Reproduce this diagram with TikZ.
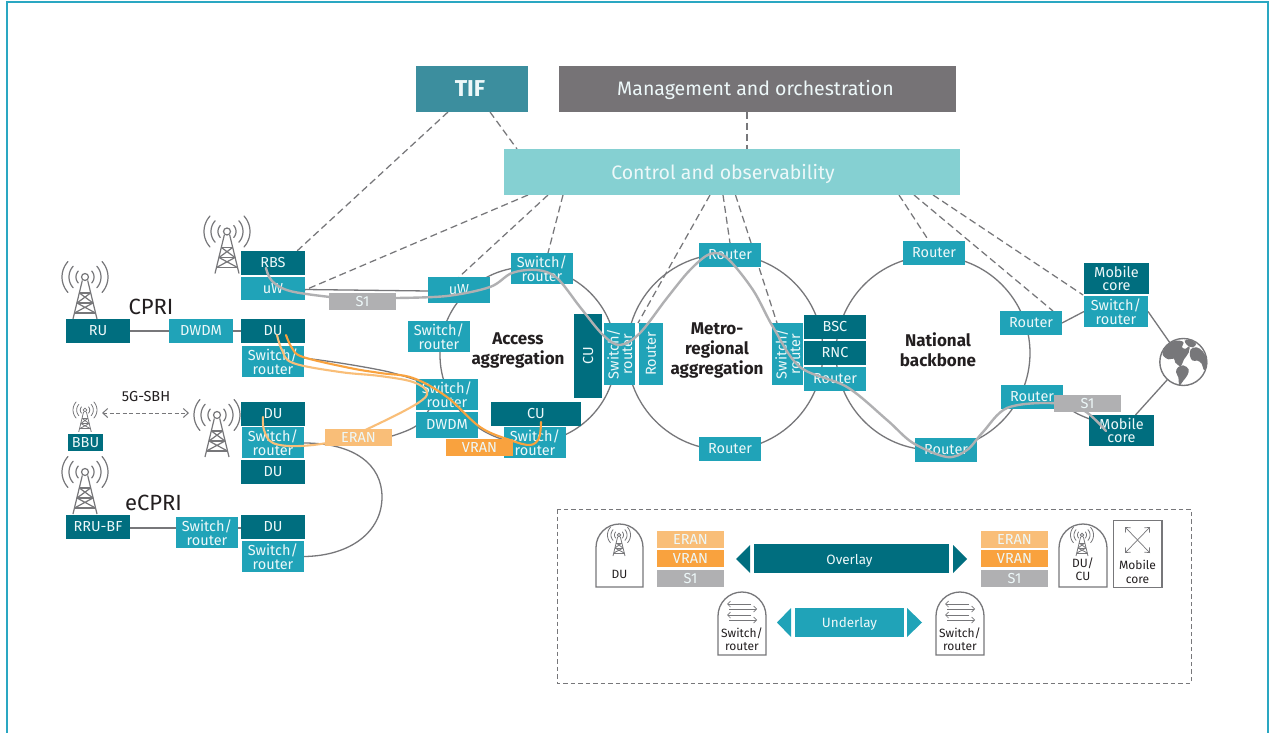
\documentclass[tikz,border=0pt]{standalone}
\usepackage{fontspec}
\setmainfont{Fira Sans}
\usetikzlibrary{arrows.meta,backgrounds}
\definecolor{deep}{HTML}{006E7F}
\definecolor{mid}{HTML}{20A3B8}
\definecolor{tifc}{HTML}{3C8E9E}
\definecolor{mgmt}{HTML}{767376}
\definecolor{ctrl}{HTML}{85D0D2}
\definecolor{eranc}{HTML}{F9BE78}
\definecolor{vranc}{HTML}{F9A23E}
\definecolor{sonec}{HTML}{B0B0B2}
\definecolor{wire}{HTML}{77777A}
\definecolor{framec}{HTML}{2AA7C2}
\definecolor{ink}{HTML}{231F20}
\pgfdeclarelayer{paper}
\pgfdeclarelayer{under}
\pgfdeclarelayer{over}
\pgfdeclarelayer{top}
\pgfsetlayers{paper,under,main,over,top}
\tikzset{
  x=1pt,y=-1pt,
  fillbox/.style={inner sep=0pt,outer sep=0pt,text=white!92!mid,align=center,font=\fontsize{14.5}{13.5}\selectfont},
  deepbox/.style={fillbox,fill=deep},
  midbox/.style={fillbox,fill=mid},
  eranbox/.style={fillbox,fill=eranc},
  vranbox/.style={fillbox,fill=vranc},
  sonebox/.style={fillbox,fill=sonec},
  bigbox/.style={fillbox,font=\fontsize{19.5}{22}\selectfont},
  ctlline/.style={draw=wire,line width=1.25pt,dash pattern=on 7pt off 4pt},
  wireline/.style={draw=wire,line width=1.3pt},
  ring/.style={circle,draw=wire,line width=1.3pt,inner sep=0pt,outer sep=0pt},
  sone path/.style={draw=sonec,line width=2.4pt,line cap=round},
  eran path/.style={draw=eranc,line width=2.1pt,line cap=round},
  vran path/.style={draw=vranc,line width=2.1pt,line cap=round},
  head/.style={font=\bfseries\fontsize{17}{20}\selectfont,text=ink,align=center,inner sep=0pt},
  proto/.style={font=\fontsize{22}{22}\selectfont,text=ink,inner sep=0pt},
  legtext/.style={font=\fontsize{12}{13.5}\selectfont,text=ink,align=center,inner sep=0pt},
  arch/.style={draw=wire,line width=1.3pt,fill=white},
  tower/.pic={
    \foreach \r in {9,16,23}{
      \draw[domain=-42:42,samples=14,line cap=round] plot ({\r*cos(\x)},{\r*sin(\x)});
      \draw[domain=-42:42,samples=14,line cap=round] plot ({-\r*cos(\x)},{\r*sin(\x)});
    }
    \draw (0,0) circle[radius=3.5];
    \draw (-2.7,3.5) -- (-12,42) (2.7,3.5) -- (12,42);
    \draw (-5.6,16) -- (5.6,16) (-8,26) -- (8,26) (-10.5,36) -- (10.5,36);
    \draw (-5.6,16) -- (8,26) (5.6,16) -- (-8,26) (-8,26) -- (10.5,36) (8,26) -- (-10.5,36);
  }
}
\newcommand{\boxat}[7]{%
  \pgfmathsetmacro\bxcx{(#3+#5)/2}%
  \pgfmathsetmacro\bxcy{(#4+#6)/2}%
  \pgfmathsetmacro\bxw{#5-#3}%
  \pgfmathsetmacro\bxh{#6-#4}%
  \node[#1,minimum width=\bxw pt,minimum height=\bxh pt] (#2) at (\bxcx,\bxcy) {#7};}
\newcommand{\archshape}[4]{% x1,x2,ytop,ybottom
  \pgfmathsetmacro\archr{(#2-#1)/2}%
  \pgfmathsetmacro\archm{#3+\archr}%
  \draw[arch] (#1,#4) -- (#1,\archm) arc[start angle=180,end angle=360,radius=\archr] -- (#2,#4) -- cycle;}
\begin{document}
\begin{tikzpicture}
\useasboundingbox (0,0) rectangle (1275,733);
\begin{pgfonlayer}{paper}
\fill[white] (0,0) rectangle (1275,733);
\begin{scope}
  \clip (0,0) rectangle (1275,733);
  \draw[framec,line width=1.6pt] (7,2) rectangle (1268,745);
\end{scope}
\end{pgfonlayer}

% top blocks
\boxat{fillbox,bigbox,fill=tifc,font=\bfseries\fontsize{23}{22}\selectfont}{tif}{416}{66}{528}{112}{\hspace*{-4pt}TIF}
\boxat{fillbox,bigbox,fill=mgmt}{mano}{559}{66}{956}{112}{\hspace*{-4pt}\raisebox{0pt}[18pt][4pt]{Management and orchestration}}
\boxat{fillbox,bigbox,fill=ctrl}{ctl}{504}{149}{960}{195}{\hspace*{-18pt}\raisebox{0pt}[18pt][4pt]{Control and observability}}

% left column
\boxat{deepbox}{rbs}{241}{251}{305}{275}{RBS}
\boxat{midbox}{uwa}{241}{277}{305}{300}{uW}
\boxat{deepbox}{ru}{66}{319}{130}{343}{RU}
\boxat{midbox}{dwdma}{169}{319}{233}{343}{DWDM}
\boxat{deepbox}{dua}{241}{319}{305}{343}{DU}
\boxat{midbox}{swa}{242}{346}{304}{377}{Switch/\\router}
\boxat{deepbox}{dub}{241}{402}{305}{426}{DU}
\boxat{midbox}{swb}{242}{427}{304}{458}{Switch/\\router}
\boxat{deepbox}{duc}{241}{460}{305}{484}{DU}
\boxat{deepbox}{bbu}{68}{434}{103}{451}{BBU}
\boxat{deepbox}{rru}{66}{515}{130}{539}{RRU-BF}
\boxat{midbox}{swc}{176}{517}{238}{548}{Switch/\\router}
\boxat{deepbox}{dud}{241}{515}{305}{539}{DU}
\boxat{midbox}{swd}{242}{541}{304}{572}{Switch/\\router}

% access ring
\boxat{midbox}{uwb}{428}{277}{490}{303}{uW}
\boxat{midbox}{swe}{511}{253}{573}{284}{Switch/\\router}
\boxat{midbox}{swf}{408}{321}{470}{352}{Switch/\\router}
\boxat{midbox}{swg}{416}{379}{478}{410}{Switch/\\router}
\boxat{midbox}{dwdmb}{416}{412}{478}{438}{DWDM}
\boxat{deepbox}{cua}{491}{402}{581}{426}{CU}
\boxat{midbox}{swh}{504}{427}{566}{458}{Switch/\\router}
\node[deepbox,minimum width=84pt,minimum height=28pt,rotate=90] (cub) at (588,356) {CU};
\node[midbox,minimum width=62pt,minimum height=31pt,rotate=90] (swi) at (619.5,354) {Switch/\\router};
\node[midbox,minimum width=62pt,minimum height=24pt,rotate=90] (rta) at (651,354) {Router};

% metro ring
\boxat{midbox}{rtb}{699}{243}{761}{267}{Router}
\boxat{midbox}{rtc}{699}{437}{761}{461}{Router}
\node[midbox,minimum width=62pt,minimum height=31pt,rotate=90] (swj) at (787.5,354) {Switch/\\router};
\boxat{deepbox}{bsc}{804}{315}{866}{339}{BSC}
\boxat{deepbox}{rnc}{804}{341}{866}{365}{RNC}
\boxat{midbox}{rtd}{804}{367}{866}{391}{Router}

% national ring
\boxat{midbox}{rte}{903}{241}{965}{265}{Router}
\boxat{midbox}{rtf}{915}{438}{977}{462}{Router}
\boxat{midbox}{rtg}{1000}{311}{1062}{335}{Router}
\boxat{midbox}{rth}{1001}{385}{1063}{409}{Router}
\boxat{deepbox}{mca}{1084}{263}{1149}{294}{Mobile\\core}
\boxat{midbox}{swk}{1084}{296}{1148}{327}{Switch/\\router}
\boxat{deepbox}{mcb}{1089}{415}{1154}{446}{Mobile\\core}

% globe
\node[circle,draw=wire,line width=1.4pt,fill=white,minimum size=47pt,inner sep=0pt,outer sep=0pt] (globe) at (1183.3,362) {};
\begin{scope}[shift={(1150,330)},scale=.3333]
  \fill[wire] plot[smooth cycle,tension=.6] coordinates {(38,68) (52,44) (76,32) (100,36) (96,52) (108,56) (118,48) (116,68) (102,88) (92,108) (76,98) (72,86) (56,88) (42,80)};
  \fill[wire] plot[smooth cycle,tension=.6] coordinates {(84,112) (100,106) (116,118) (112,136) (100,152) (88,166) (85,142) (78,126)};
  \fill[wire] plot[smooth cycle,tension=.6] coordinates {(122,58) (140,52) (158,64) (171,88) (170,112) (162,120) (154,100) (142,92) (128,92) (120,78)};
  \fill[wire] plot[smooth cycle,tension=.6] coordinates {(104,32) (122,30) (138,42) (128,52) (112,46)};
\end{scope}

% legend boxes
\draw[draw=wire,line width=.9pt,dash pattern=on 4.5pt off 3pt] (557,509) rectangle (1191,683);
\boxat{eranbox}{lea}{657}{531}{724}{548}{ERAN}
\boxat{vranbox}{lva}{657}{550}{724}{567}{VRAN}
\boxat{sonebox}{lsa}{657}{570}{724}{587}{S1}
\boxat{eranbox}{leb}{981}{531}{1048}{548}{ERAN}
\boxat{vranbox}{lvb}{981}{550}{1048}{567}{VRAN}
\boxat{sonebox}{lsb}{981}{570}{1048}{587}{S1}
\boxat{deepbox,font=\fontsize{13.5}{14}\selectfont}{overlay}{754}{544}{949}{573}{\hspace*{-4pt}\raisebox{0pt}[15pt][4pt]{Overlay}}
\boxat{midbox,font=\fontsize{13.5}{14}\selectfont}{underlay}{795}{608}{904}{637}{\raisebox{0pt}[14pt][4pt]{Underlay}}
\fill[deep] (736,559) -- (750,545) -- (750,573) -- cycle;
\fill[deep] (967,559) -- (953,545) -- (953,573) -- cycle;
\fill[mid] (777,622.5) -- (791,608) -- (791,637) -- cycle;
\fill[mid] (922,622.5) -- (907,608) -- (907,637) -- cycle;

\archshape{596}{643}{524}{587}
\archshape{1059}{1107}{524}{587}
\archshape{718}{766}{592}{655}
\archshape{936}{984}{592}{655}
\draw[arch] (1113.5,520.5) rectangle (1162,587.5);
\node[legtext] (ldu) at (619.5,574) {DU};
\node[legtext] (ldc) at (1083,569) {DU/\\CU};
\node[legtext] (lmc) at (1137.5,572) {Mobile\\core};
\node[legtext] (lsw1) at (742,639) {Switch/\\router};
\node[legtext] (lsw2) at (960,639) {Switch/\\router};
\pic[draw=wire,scale=.5,line width=.8pt] at (619,535) {tower};
\pic[draw=wire,scale=.5,line width=.8pt] at (1082,535) {tower};
% legend switch arrows
\foreach \dx in {742,960}{
  \begin{scope}[shift={(\dx,0)},draw=wire,line width=.7pt]
    \draw[-{Straight Barb[length=3pt,width=6pt]}] (9,604) -- (-15,604);
    \draw[-{Straight Barb[length=3pt,width=6pt]}] (-13,609) -- (15,609);
    \draw[-{Straight Barb[length=3pt,width=6pt]}] (9,615) -- (-15,615);
    \draw[-{Straight Barb[length=3pt,width=6pt]}] (-13,620) -- (15,620);
  \end{scope}
}
\begin{scope}[draw=wire,line width=.7pt,{Straight Barb[length=4pt,width=7pt]}-{Straight Barb[length=4pt,width=7pt]}]
  \draw (1125,527) -- (1150,553);
  \draw (1150,527) -- (1125,553);
\end{scope}

% towers
\pic[draw=wire,line width=1.2pt] at (85,277) {tower};
\pic[draw=wire,line width=1.2pt] at (227,231.5) {tower};
\pic[draw=wire,line width=1.2pt] at (85,472) {tower};
\pic[draw=wire,line width=1.2pt] at (217,415) {tower};
\pic[draw=wire,scale=.52,line width=.8pt] at (85,410) {tower};

% free labels
\node[proto] (cpri) at (151,307) {CPRI};
\node[proto] (ecpri) at (153.5,503) {eCPRI};
\node[inner sep=0pt,text=ink,font=\fontsize{14.5}{14}\selectfont] (sbh) at (146,397) {5G-SBH};
\node[head] (lacc) at (518,350.5) {Access\\aggregation};
\node[head] (lmet) at (717,350) {Metro-\\regional\\aggregation};
\node[head] (lnat) at (938,350) {National\\backbone};

\begin{pgfonlayer}{under}
  % rings
  \node[ring,minimum size=176pt] (access) at (528,355) {};
  \node[ring,minimum size=196pt] (metro) at (725,352) {};
  \node[ring,minimum size=194pt] (national) at (933,353) {};
  % control plane links
  \draw[ctlline] ([xshift=-24pt]tif.south) -- ([xshift=24pt]rbs.north);
  \draw[ctlline] ([xshift=18pt]tif.south) -- ([xshift=-215pt]ctl.north);
  \draw[ctlline] ([xshift=-10.5pt]mano.south) -- ([xshift=15pt]ctl.north);
  \draw[ctlline] ([xshift=-204pt]ctl.south) -- ([yshift=-1.5pt]uwa.east);
  \draw[ctlline] ([xshift=-184pt]ctl.south) -- (uwb.north);
  \draw[ctlline] ([xshift=-169pt]ctl.south) -- ([xshift=6pt]swe.north);
  \draw[ctlline] ([xshift=-22pt]ctl.south) -- (638,323);
  \draw[ctlline] ([xshift=-9pt]ctl.south) -- (rtb.north);
  \draw[ctlline] ([xshift=3.5pt]ctl.south) -- (777,323);
  \draw[ctlline] ([xshift=167pt]ctl.south) -- ([xshift=-5pt]rte.north);
  \draw[ctlline] ([xshift=182pt]ctl.south) -- ([xshift=-9pt]rtg.north east);
  \draw[ctlline] ([xshift=201pt]ctl.south) -- ([xshift=-1pt,yshift=1pt]swk.north west);
  % solid links
  \draw[wireline] (ru) -- (dwdma);
  \draw[wireline] (dwdma) -- (dua);
  \draw[wireline] ([yshift=-1pt]rru.east) -- ([yshift=-1pt]rru.east -| swc.west);
  \draw[wireline] ([yshift=-1pt]dud.west -| swc.east) -- ([yshift=-1pt]dud.west);
  \draw[wireline] ([yshift=-1pt]uwa.east) -- ([yshift=-1pt]uwb.west);
  \draw[wireline] (rtg.east) -- (swk.west);
  \draw[wireline] (swk.east) -- (globe);
  \draw[wireline] (mcb) -- (globe);
  \draw[wireline] plot[smooth,tension=.7] coordinates {(304,358) (340,363) (380,370) (400,375) (416,380)};
  \draw[wireline] ([yshift=-0.5pt]swb.east) .. controls (355,443) and (382,465) .. (382,497) .. controls (382,532) and (350,556) .. (swd.east);
  \draw[wireline] plot[smooth,tension=.6] coordinates {(392,436) (416,426) (430,408)};
  \draw[wireline] plot[smooth,tension=.7] coordinates {(1063,403) (1076,413) (1095,421)};
\end{pgfonlayer}

\begin{pgfonlayer}{over}
  \draw[sone path] plot[smooth,tension=.6] coordinates {(266,268) (272,281) (290,291) (330,297)};
  \draw[sone path] plot[smooth,tension=.55] coordinates {(396,298) (447,296) (490,287) (512,273) (537,270) (557,278) (580,307) (603,335) (620,345) (640,333) (667,298) (690,270) (710,254) (727,258) (753,290) (773,327) (800,367) (847,387) (887,420) (913,443) (947,457) (967,450) (983,432) (1007,408) (1050,403) (1083,410) (1106,431)};
  \draw[eran path] plot[smooth,tension=.6] coordinates {(277,335) (282,350) (293,363) (340,372) (380,376) (413,382) (427,392) (418,403) (380,423) (340,440) (300,446) (273,443) (264,430) (263,417)};
  \draw[vran path] plot[smooth,tension=.6] coordinates {(286,335) (292,348) (303,357) (350,368) (380,373) (413,378) (447,397) (480,427) (510,440) (530,445) (539,438) (541,422)};
\end{pgfonlayer}

\begin{pgfonlayer}{top}
  \boxat{sonebox}{sonea}{329}{293}{396}{310}{S1}
  \boxat{sonebox}{soneb}{1054}{395}{1121}{412}{S1}
  \boxat{eranbox}{eran}{325}{429}{392}{446}{ERAN}
  \boxat{vranbox}{vran}{446}{439}{513}{456}{VRAN}
  \coordinate (sbha) at (102,413);
  \coordinate (sbhb) at (189,413);
  \draw[draw=wire,line width=1pt,dash pattern=on 4pt off 2.5pt,{Straight Barb[length=5pt,width=9pt]}-{Straight Barb[length=5pt,width=9pt]}] (sbha) -- (sbhb);
\end{pgfonlayer}
\end{tikzpicture}
\end{document}
